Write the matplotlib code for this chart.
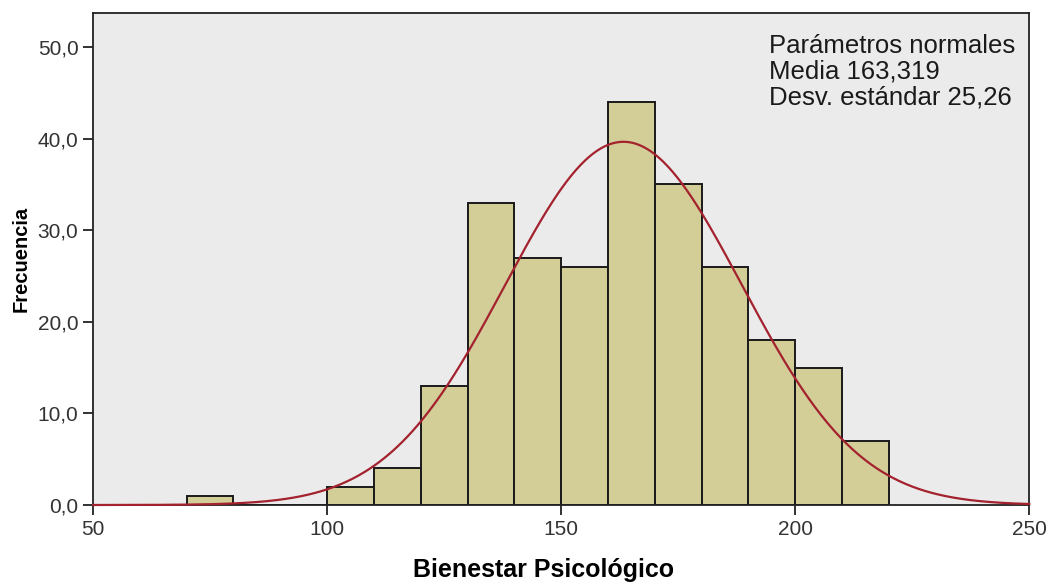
import numpy as np
import matplotlib
matplotlib.use('Agg')
import matplotlib.pyplot as plt

matplotlib.rcParams['font.family'] = ['Liberation Sans', 'DejaVu Sans']

# Histogram data (bins of width 10)
bin_left = [70, 80, 90, 100, 110, 120, 130, 140, 150, 160, 170, 180, 190, 200, 210]
counts = [1, 0, 0, 2, 4, 13, 33, 27, 26, 44, 35, 26, 18, 15, 7]
bin_width = 10
media = 163.319
desv = 25.26

x_ticks = [50, 100, 150, 200, 250]
y_ticks = [0, 10, 20, 30, 40, 50]
y_labels = ['0,0', '10,0', '20,0', '30,0', '40,0', '50,0']

fig = plt.figure(figsize=(10.49, 5.82), dpi=100)
ax = fig.add_axes([0.0887, 0.1323, 0.8925, 0.8454])
ax.set_facecolor('#ebebeb')

ax.bar(bin_left, counts, width=bin_width, align='edge', color='#d3cd98',
       edgecolor='#1a1a1a', linewidth=1.4, zorder=2)

# normal curve scaled to counts
n = sum(counts)
xs = np.linspace(50, 250, 600)
ys = n * bin_width / (desv * np.sqrt(2 * np.pi)) * np.exp(-0.5 * ((xs - media) / desv) ** 2)
ax.plot(xs, ys, color='#a3222e', linewidth=1.6, zorder=3, clip_on=False)

ax.set_xlim(50, 250)
ax.set_ylim(0, 53.7)
ax.set_xticks(x_ticks)
ax.set_xticklabels([str(v) for v in x_ticks])
ax.set_yticks(y_ticks)
ax.set_yticklabels(y_labels)
ax.tick_params(direction='out', length=7, width=1.3, colors='#222222',
               labelsize=15, labelcolor='#333333')
for s in ax.spines.values():
    s.set_linewidth(1.3)
    s.set_color('#222222')

ax.text(0.722, 0.957, 'Parámetros normales\nMedia 163,319\nDesv. estándar 25,26',
        transform=ax.transAxes, ha='left', va='top', fontsize=18.5,
        color='#1a1a1a', linespacing=1.08)

fig.text(544 / 1049, 1 - 577 / 582, 'Bienestar Psicológico', ha='center',
         va='baseline', fontsize=18, fontweight='bold')
fig.text(21 / 1049, 0.555, 'Frecuencia', ha='center', va='center',
         rotation=90, fontsize=14.5, fontweight='bold')

fig.savefig('out.png', dpi=100)
